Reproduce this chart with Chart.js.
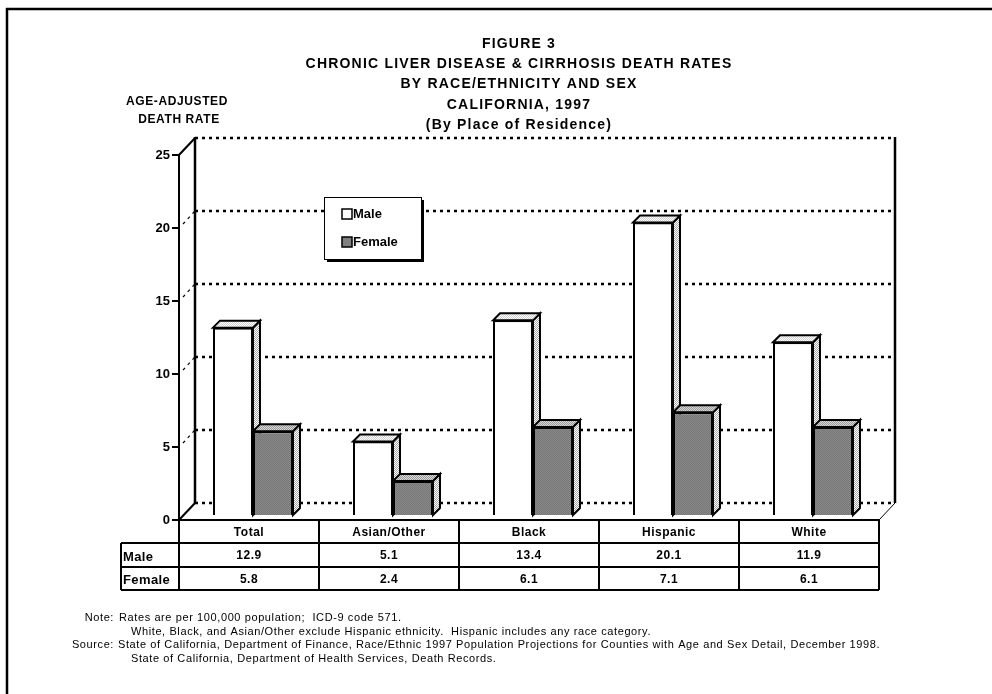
<!DOCTYPE html>
<html>
<head>
<meta charset="utf-8">
<script src="https://cdn.jsdelivr.net/npm/chart.js@4.4.1/dist/chart.umd.min.js"></script>
<style>
  html, body { margin: 0; padding: 0; background: #fff; }
  #wrap { width: 992px; height: 694px; }
</style>
</head>
<body>
<div id="wrap"><canvas id="myChart" width="992" height="694"></canvas></div>
<script>
//Data
const categories = ["Total", "Asian/Other", "Black", "Hispanic", "White"];
const maleRates = [12.9, 5.1, 13.4, 20.1, 11.9];
const femaleRates = [5.8, 2.4, 6.1, 7.1, 6.1];
const yMax = 25;
const yStep = 5;

const titleLines = [
    "FIGURE 3",
    "CHRONIC LIVER DISEASE & CIRRHOSIS DEATH RATES",
    "BY RACE/ETHNICITY AND SEX",
    "CALIFORNIA, 1997",
    "(By Place of Residence)"
];
//label, text, text indent
const noteLines = [
    ["Note:", "Rates are per 100,000 population;  ICD-9 code 571.", 119],
    ["", "White, Black, and Asian/Other exclude Hispanic ethnicity.  Hispanic includes any race category.", 131],
    ["Source:", "State of California, Department of Finance, Race/Ethnic 1997 Population Projections for Counties with Age and Sex Detail, December 1998.", 118],
    ["", "State of California, Department of Health Services, Death Records.", 131]
];

const FONT = "'Liberation Sans', Arial, sans-serif";
const WALL_DX = 16, WALL_DY = 17;   // depth of the back wall
const BAR_SHIFT = 4;                // bars sit a bit behind the front plane
const BAR_DX = 7, BAR_DY = 7;       // depth of each bar

//small stipple patterns like the old print
function makePattern(a, b) {
    let c = document.createElement("canvas");
    c.width = 2; c.height = 2;
    let x = c.getContext("2d");
    x.fillStyle = a; x.fillRect(0, 0, 2, 2);
    x.fillStyle = b; x.fillRect(0, 0, 1, 1); x.fillRect(1, 1, 1, 1);
    return document.getElementById("myChart").getContext("2d").createPattern(c, "repeat");
}
const sidePattern = makePattern("#ffffff", "#a8a8a8");
const maleTopPattern = makePattern("#ffffff", "#d0d0d0");
const femaleTopPattern = makePattern("#d8d8d8", "#9a9a9a");
const femaleFront = makePattern("#888888", "#787878");

function dotted(ctx, x1, y1, x2, y2, w) {
    ctx.save();
    ctx.lineWidth = w || 2.5;
    ctx.setLineDash([3, 4]);
    ctx.strokeStyle = "#000";
    ctx.beginPath(); ctx.moveTo(x1, y1); ctx.lineTo(x2, y2); ctx.stroke();
    ctx.restore();
}
function solid(ctx, x1, y1, x2, y2, w) {
    ctx.save();
    ctx.lineWidth = w;
    ctx.strokeStyle = "#000";
    ctx.beginPath(); ctx.moveTo(x1, y1); ctx.lineTo(x2, y2); ctx.stroke();
    ctx.restore();
}

//back wall, floor and gridlines
const wallPlugin = {
    id: "wall",
    beforeDatasetsDraw(chart) {
        const ctx = chart.ctx;
        const a = chart.chartArea;
        const y = chart.scales.y;
        const bl = a.left + WALL_DX, br = a.right + WALL_DX;
        for (let v = 0; v <= yMax; v += yStep) {
            const py = y.getPixelForValue(v);
            dotted(ctx, bl, py - WALL_DY, br, py - WALL_DY);
            if (v > 0 && v < yMax) dotted(ctx, a.left + 4, py - 4, bl, py - WALL_DY, 1.2);
        }
        solid(ctx, a.left, a.top, bl, a.top - WALL_DY, 2);
        solid(ctx, a.left, a.bottom, bl, a.bottom - WALL_DY, 2);
        solid(ctx, a.right, a.bottom, br, a.bottom - WALL_DY, 1);
        solid(ctx, bl, a.top - WALL_DY - 1, bl, a.bottom - WALL_DY, 2.5);
        solid(ctx, br, a.top - WALL_DY - 1, br, a.bottom - WALL_DY, 2.5);
    }
};

//3d faces of the bars
const barsPlugin = {
    id: "bars3d",
    beforeDatasetsDraw(chart) {
        const ctx = chart.ctx;
        ctx.save();
        ctx.translate(BAR_SHIFT, -BAR_SHIFT);
        chart.data.datasets.forEach((ds, di) => {
            const meta = chart.getDatasetMeta(di);
            meta.data.forEach(bar => {
                const l = bar.x - bar.width / 2, r = bar.x + bar.width / 2;
                const t = bar.y, b = bar.base;
                ctx.lineWidth = 2;
                ctx.strokeStyle = "#000";
                ctx.lineJoin = "miter";
                //side
                ctx.beginPath();
                ctx.moveTo(r, t); ctx.lineTo(r + BAR_DX, t - BAR_DY);
                ctx.lineTo(r + BAR_DX, b - BAR_DY); ctx.lineTo(r, b); ctx.closePath();
                ctx.fillStyle = sidePattern; ctx.fill(); ctx.stroke();
                //top
                ctx.beginPath();
                ctx.moveTo(l, t); ctx.lineTo(l + BAR_DX, t - BAR_DY);
                ctx.lineTo(r + BAR_DX, t - BAR_DY); ctx.lineTo(r, t); ctx.closePath();
                ctx.fillStyle = di === 0 ? maleTopPattern : femaleTopPattern; ctx.fill(); ctx.stroke();
            });
        });
    },
    afterDatasetsDraw(chart) {
        chart.ctx.restore();
    }
};

//titles, legend, table and notes
const textPlugin = {
    id: "texts",
    afterDraw(chart) {
        const ctx = chart.ctx;
        const a = chart.chartArea;
        const x = chart.scales.x;
        ctx.save();
        ctx.fillStyle = "#000";

        //frame
        solid(ctx, 7, 8, 7, 700, 2.5);
        solid(ctx, 6, 9, 1000, 9, 2.5);

        //title
        ctx.font = "bold 14px " + FONT;
        ctx.textAlign = "center";
        ctx.textBaseline = "middle";
        ctx.letterSpacing = "1.2px";
        titleLines.forEach((s, i) => ctx.fillText(s, 519, 44 + i * 20.3));

        //axis title
        ctx.font = "bold 12px " + FONT;
        ctx.letterSpacing = "0.6px";
        ctx.fillText("AGE-ADJUSTED", 177, 102);
        ctx.fillText("DEATH RATE", 179, 120);

        //legend
        const lx = 324, ly = 197, lw = 97, lh = 62;
        ctx.fillStyle = "#000";
        ctx.fillRect(lx + 3, ly + 3, lw, lh);
        ctx.fillStyle = "#fff";
        ctx.fillRect(lx, ly, lw, lh);
        ctx.lineWidth = 1;
        ctx.strokeStyle = "#000";
        ctx.strokeRect(lx + 0.5, ly + 0.5, lw, lh);
        ctx.textAlign = "left";
        ctx.font = "bold 13px " + FONT;
        ctx.letterSpacing = "0px";
        chart.data.datasets.forEach((ds, i) => {
            const cy = ly + 17 + i * 28;
            ctx.fillStyle = i === 0 ? "#fff" : "#808080";
            ctx.fillRect(lx + 18, cy - 5, 10, 10);
            ctx.lineWidth = 1.5;
            ctx.strokeRect(lx + 18, cy - 5, 10, 10);
            ctx.fillStyle = "#000";
            ctx.fillText(ds.label, lx + 29, cy);
        });

        //data table
        const rowTop = a.bottom, r1 = a.bottom + 23, r2 = a.bottom + 47, r3 = a.bottom + 70;
        const headL = 121;
        ctx.lineWidth = 2;
        ctx.strokeStyle = "#000";
        ctx.beginPath();
        ctx.moveTo(a.left, rowTop); ctx.lineTo(a.right, rowTop);
        ctx.moveTo(headL, r1); ctx.lineTo(a.right, r1);
        ctx.moveTo(headL, r2); ctx.lineTo(a.right, r2);
        ctx.moveTo(headL, r3); ctx.lineTo(a.right, r3);
        ctx.moveTo(headL, r1); ctx.lineTo(headL, r3);
        ctx.moveTo(a.left, rowTop); ctx.lineTo(a.left, r3);
        categories.forEach((c, i) => {
            const right = x.getPixelForValue(i) + (a.right - a.left) / categories.length / 2;
            ctx.moveTo(right, rowTop); ctx.lineTo(right, r3);
        });
        ctx.stroke();

        ctx.font = "bold 12px " + FONT;
        ctx.textAlign = "center";
        ctx.letterSpacing = "0.5px";
        categories.forEach((c, i) => {
            const cx = x.getPixelForValue(i);
            ctx.fillText(c, cx, (rowTop + r1) / 2 + 1);
            ctx.fillText(maleRates[i].toFixed(1), cx, (r1 + r2) / 2 + 1);
            ctx.fillText(femaleRates[i].toFixed(1), cx, (r2 + r3) / 2 + 1);
        });
        ctx.textAlign = "left";
        ctx.font = "bold 13px " + FONT;
        ctx.letterSpacing = "0.4px";
        ctx.fillText(chart.data.datasets[0].label, headL + 2, (r1 + r2) / 2 + 2);
        ctx.fillText(chart.data.datasets[1].label, headL + 2, (r2 + r3) / 2 + 2);

        //notes
        ctx.font = "11px " + FONT;
        ctx.letterSpacing = "0.6px";
        noteLines.forEach((n, i) => {
            const ny = 618 + i * 13.5;
            ctx.textAlign = "right";
            ctx.fillText(n[0], 114, ny);
            ctx.textAlign = "left";
            ctx.fillText(n[1], n[2], ny);
        });
        ctx.restore();
    }
};

//chart.js setup
let canvasElement = document.getElementById("myChart").getContext("2d");
let config = {
    type: "bar",
    data: {
        labels: categories,
        datasets: [{
                label: "Male",
                data: maleRates,
                backgroundColor: "#ffffff",
                borderColor: "#000000",
                borderWidth: 2
            },
            {
                label: "Female",
                data: femaleRates,
                backgroundColor: femaleFront,
                borderColor: "#000000",
                borderWidth: 2
            }
        ]
    },
    options: {
        responsive: false,
        animation: false,
        events: [],
        layout: {
            padding: { left: 119, top: 155, right: 113, bottom: 174 }
        },
        datasets: {
            bar: { categoryPercentage: 80 / 140, barPercentage: 1.0 }
        },
        plugins: {
            legend: { display: false },
            title: { display: false },
            tooltip: { enabled: false }
        },
        scales: {
            x: {
                display: false,
                grid: { display: false }
            },
            y: {
                min: 0,
                max: yMax,
                afterFit: s => { s.width = 60; },
                ticks: {
                    stepSize: yStep,
                    color: "#000",
                    padding: 2,
                    font: { family: FONT, size: 13, weight: "bold" }
                },
                grid: {
                    drawOnChartArea: false,
                    drawTicks: true,
                    tickLength: 7,
                    color: "#000",
                    lineWidth: 2
                },
                border: { display: true, color: "#000", width: 2 }
            }
        }
    },
    plugins: [wallPlugin, barsPlugin, textPlugin]
};

let myChart = new Chart(canvasElement, config);
</script>
</body>
</html>
